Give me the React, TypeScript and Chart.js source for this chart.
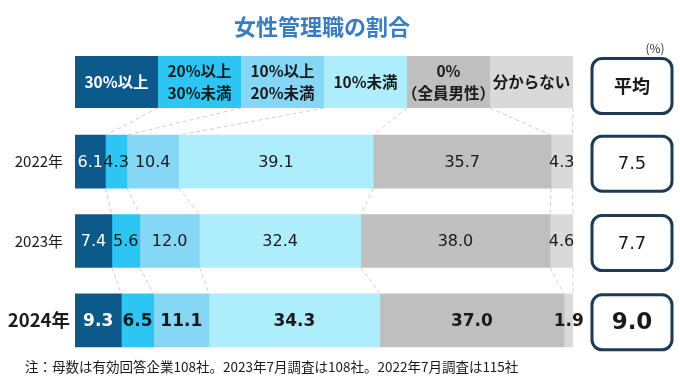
import React, { useEffect, useRef } from "react";
import { Chart, registerables } from "chart.js";

Chart.register(...registerables);

const title = "女性管理職の割合";
const years = ["2022年", "2023年", "2024年"];
const categories = [
  ["30%以上"],
  ["20%以上", "30%未満"],
  ["10%以上", "20%未満"],
  ["10%未満"],
  ["0%", "（全員男性）"],
  ["分からない"],
];
const v30plus = [6.1, 7.4, 9.3];
const v20to30 = [4.3, 5.6, 6.5];
const v10to20 = [10.4, 12.0, 11.1];
const vUnder10 = [39.1, 32.4, 34.3];
const vZero = [35.7, 38.0, 37.0];
const vUnknown = [4.3, 4.6, 1.9];
const averages = [7.5, 7.7, 9.0];
const avgHeader = "平均";
const unitLabel = "(%)";
const footnote = "注：母数は有効回答企業108社。2023年7月調査は108社。2022年7月調査は115社";

const colors = ["#0c5a8b", "#2cc5f4", "#86d7f6", "#aeeefc", "#bfbfbf", "#d9d9d9"];
const headerText = ["#ffffff", "#1a1a1a", "#1a1a1a", "#1a1a1a", "#1a1a1a", "#1a1a1a"];
const labelText = ["#ffffff", "#1a1a1a", "#1a1a1a", "#1a1a1a", "#1a1a1a", "#1a1a1a"];

const JP = '"Noto Sans CJK JP", "Noto Sans", sans-serif';
const NUM = '"DejaVu Sans", sans-serif';

const series = [v30plus, v20to30, v10to20, vUnder10, vZero, vUnknown];

const overlay = {
  id: "overlay",
  afterDatasetsDraw(chart: any) {
    const ctx = chart.ctx;
    ctx.save();
    ctx.textAlign = "center";
    ctx.textBaseline = "middle";
    chart.data.datasets.forEach((ds: any, di: number) => {
      const meta = chart.getDatasetMeta(di);
      meta.data.forEach((el: any, i: number) => {
        const v = ds.data[i];
        const cx = (el.x + el.base) / 2;
        ctx.fillStyle = labelText[di];
        ctx.font = i === 2 ? `bold 17px ${NUM}` : `16px ${NUM}`;
        ctx.fillText(v.toFixed(1), cx, el.y + 1);
      });
    });
    ctx.restore();
  },
  afterDraw(chart: any) {
    const ctx = chart.ctx;
    const xs = chart.scales.x;
    const ys = chart.scales.y;
    const headerTop = 56;
    const headerBottom = 108;
    ctx.save();

    // title
    ctx.fillStyle = "#3c7dbf";
    ctx.font = `bold 22px ${JP}`;
    ctx.textAlign = "center";
    ctx.textBaseline = "middle";
    ctx.fillText(title, 322, 27);

    // header boxes
    const n = categories.length;
    for (let i = 0; i < n; i++) {
      const x0 = xs.getPixelForValue((i * 100) / n);
      const x1 = xs.getPixelForValue(((i + 1) * 100) / n);
      ctx.fillStyle = colors[i];
      ctx.fillRect(x0, headerTop, x1 - x0, headerBottom - headerTop);
      ctx.fillStyle = headerText[i];
      ctx.font = `bold 15.5px ${JP}`;
      const lines = categories[i];
      const cy = (headerTop + headerBottom) / 2;
      const lh = 22;
      lines.forEach((t, li) => {
        const y = cy + (li - (lines.length - 1) / 2) * lh;
        ctx.fillText(t, (x0 + x1) / 2, y);
      });
    }

    // connectors
    const metas = chart.data.datasets.map((_: any, di: number) => chart.getDatasetMeta(di));
    const rows = years.length;
    const boundary = (r: number, k: number) => metas[k - 1].data[r].x;
    const topOf = (r: number) => metas[0].data[r].y - metas[0].data[r].height / 2;
    const botOf = (r: number) => metas[0].data[r].y + metas[0].data[r].height / 2;
    ctx.strokeStyle = "#d0cccc";
    ctx.lineWidth = 1;
    ctx.setLineDash([4, 3]);
    for (let k = 1; k <= n; k++) {
      ctx.beginPath();
      ctx.moveTo(xs.getPixelForValue((k * 100) / n), headerBottom);
      ctx.lineTo(Math.min(boundary(0, k), xs.right), topOf(0));
      ctx.stroke();
      for (let r = 0; r < rows - 1; r++) {
        ctx.beginPath();
        ctx.moveTo(Math.min(boundary(r, k), xs.right), botOf(r));
        ctx.lineTo(Math.min(boundary(r + 1, k), xs.right), topOf(r + 1));
        ctx.stroke();
      }
    }
    ctx.setLineDash([]);

    // average boxes
    const bx = 592;
    const bw = 80;
    const bh = 55;
    ctx.strokeStyle = "#1d3b57";
    ctx.lineWidth = 3;
    const drawBox = (cy: number) => {
      ctx.beginPath();
      ctx.roundRect(bx, cy - bh / 2, bw, bh, 10);
      ctx.fillStyle = "#ffffff";
      ctx.fill();
      ctx.stroke();
    };
    drawBox(86);
    ctx.fillStyle = "#1a1a1a";
    ctx.font = `bold 18px ${JP}`;
    ctx.fillText(avgHeader, bx + bw / 2, 86);
    averages.forEach((a, i) => {
      const cy = ys.getPixelForValue(i) + 2;
      drawBox(cy);
      ctx.fillStyle = "#1a1a1a";
      ctx.font = i === 2 ? `bold 23px ${NUM}` : `18px ${NUM}`;
      ctx.fillText(a.toFixed(1), bx + bw / 2, cy + 1);
    });

    // unit
    ctx.fillStyle = "#333333";
    ctx.font = `12px ${JP}`;
    ctx.fillText(unitLabel, 655, 48);

    // footnote
    ctx.textAlign = "left";
    ctx.fillStyle = "#1a1a1a";
    ctx.font = `13.5px ${JP}`;
    ctx.fillText(footnote, 25, 367);
    ctx.restore();
  },
};

export default function App() {
  const ref = useRef<HTMLCanvasElement | null>(null);
  useEffect(() => {
    if (!ref.current) return;
    const chart = new Chart(ref.current, {
      type: "bar",
      data: {
        labels: years,
        datasets: series.map((d, i) => ({
          label: categories[i].join(""),
          data: d,
          backgroundColor: colors[i],
          borderWidth: 0,
          barThickness: 53,
          stack: "s",
        })),
      },
      options: {
        indexAxis: "y",
        responsive: false,
        animation: false,
        layout: { padding: { left: 0, right: 107, top: 122, bottom: 29 } },
        plugins: { legend: { display: false }, tooltip: { enabled: false } },
        scales: {
          x: { stacked: true, min: 0, max: 100, display: false },
          y: {
            stacked: true,
            grid: { display: false, drawTicks: false },
            border: { display: false },
            ticks: {
              crossAlign: "center",
              padding: 5,
              color: "#1a1a1a",
              font: (c: any) =>
                c.index === 2
                  ? { family: JP, size: 18.5, weight: "bold" }
                  : { family: JP, size: 15, weight: "normal" },
            },
            afterFit(s: any) {
              s.width = 75;
            },
          },
        },
      },
      plugins: [overlay],
    } as any);
    return () => chart.destroy();
  }, []);
  return (
    <div style={{ position: "absolute", left: 0, top: 0, width: 680, height: 389, background: "#fff" }}>
      <canvas ref={ref} width={680} height={389} />
    </div>
  );
}
